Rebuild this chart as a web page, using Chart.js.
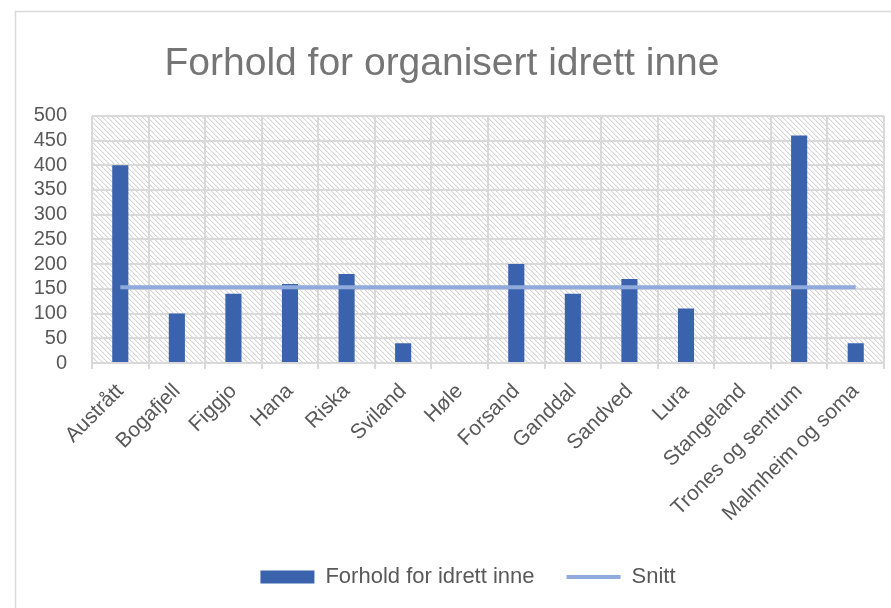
<!DOCTYPE html>
<html>
<head>
<meta charset="utf-8">
<script src="https://cdn.jsdelivr.net/npm/chart.js@4/dist/chart.umd.min.js"></script>
<style>
  html, body { margin: 0; padding: 0; background: #ffffff; }
  #wrap { width: 891px; height: 608px; }
</style>
</head>
<body>
<div id="wrap"><canvas id="c" width="891" height="608"></canvas></div>
<script>
const categories = ["Austrått", "Bogafjell", "Figgjo", "Hana", "Riska", "Sviland", "Høle", "Forsand", "Ganddal", "Sandved", "Lura", "Stangeland", "Trones og sentrum", "Malmheim og soma"];
const idrettInne = [400, 100, 140, 160, 180, 40, 0, 200, 140, 170, 110, 0, 460, 40];
const snitt = [153, 153, 153, 153, 153, 153, 153, 153, 153, 153, 153, 153, 153, 153];
const yTicks = [0, 50, 100, 150, 200, 250, 300, 350, 400, 450, 500];
const chartTitle = "Forhold for organisert idrett inne";
const seriesNames = ["Forhold for idrett inne", "Snitt"];

const FONT = "'Liberation Sans', Arial, sans-serif";

function makeHatch() {
  const n = 5;
  const t = document.createElement('canvas');
  t.width = n; t.height = n;
  const g = t.getContext('2d');
  g.fillStyle = '#ffffff';
  g.fillRect(0, 0, n, n);
  for (let i = 0; i < n; i++) {
    g.fillStyle = '#d6d6d6';
    g.fillRect(i, i, 1, 1);
    g.fillStyle = '#efefef';
    g.fillRect((i + 1) % n, i, 1, 1);
  }
  return t;
}

const bgPlugin = {
  id: 'bg',
  afterLayout(chart) {
    const lg = chart.legend;
    if (lg) { lg.left += 26; lg.right += 26; }
  },
  beforeDraw(chart) {
    const ctx = chart.ctx;
    const a = chart.chartArea;
    ctx.save();
    ctx.fillStyle = ctx.createPattern(makeHatch(), 'repeat');
    ctx.fillRect(a.left, a.top, a.right - a.left, a.bottom - a.top);
    // outer chart border
    ctx.strokeStyle = '#d9d9d9';
    ctx.lineWidth = 1.5;
    ctx.beginPath();
    ctx.moveTo(15.5, chart.height + 2);
    ctx.lineTo(15.5, 11.5);
    ctx.lineTo(chart.width + 2, 11.5);
    ctx.stroke();
    ctx.restore();
  }
};

new Chart(document.getElementById('c'), {
  data: {
    labels: categories,
    datasets: [
      {
        type: 'bar',
        label: seriesNames[0],
        data: idrettInne,
        backgroundColor: '#3B63AD',
        borderWidth: 0,
        barPercentage: 0.285,
        categoryPercentage: 1.0,
        order: 1
      },
      {
        type: 'line',
        label: seriesNames[1],
        data: snitt,
        borderColor: '#8FAADC',
        backgroundColor: '#8FAADC',
        borderWidth: 4,
        pointRadius: 0,
        fill: false,
        order: 0
      }
    ]
  },
  options: {
    responsive: false,
    animation: false,
    layout: { padding: { left: 0, right: 7, top: 0, bottom: 10 } },
    plugins: {
      title: {
        display: true,
        text: chartTitle,
        color: '#757575',
        font: { family: FONT, size: 39, weight: 'normal', lineHeight: 1.2 },
        padding: { top: 41, bottom: 28 }
      },
      legend: {
        display: true,
        position: 'bottom',
        labels: {
          color: '#595959',
          font: { family: FONT, size: 22 },
          usePointStyle: true,
          pointStyleWidth: 54,
          boxHeight: 13,
          padding: 32,
          generateLabels(chart) {
            const items = Chart.defaults.plugins.legend.labels.generateLabels(chart);
            items.sort((a, b) => a.datasetIndex - b.datasetIndex);
            items.forEach(it => {
              if (it.datasetIndex === 0) {
                it.pointStyle = 'rect';
                it.lineWidth = 0;
                it.fillStyle = '#3B63AD';
                it.strokeStyle = '#3B63AD';
              } else {
                it.pointStyle = 'line';
                it.lineWidth = 4;
                it.strokeStyle = '#8FAADC';
              }
            });
            return items;
          }
        }
      },
      tooltip: { enabled: false }
    },
    scales: {
      x: {
        type: 'category',
        offset: true,
        grid: {
          display: true,
          offset: true,
          color: '#d9d9d9',
          lineWidth: 2,
          drawTicks: true,
          tickLength: 6,
          tickColor: '#d9d9d9'
        },
        border: { display: true, color: '#d9d9d9', width: 2 },
        ticks: {
          color: '#595959',
          font: { family: FONT, size: 21 },
          minRotation: 45,
          maxRotation: 45,
          autoSkip: false,
          padding: 10
        },
        afterFit(scale) { scale.height = 171; }
      },
      y: {
        min: 0,
        max: 500,
        afterBuildTicks(scale) { scale.ticks = yTicks.map(v => ({ value: v })); },
        grid: {
          color: '#d9d9d9',
          lineWidth: 2,
          drawTicks: false
        },
        border: { display: false },
        ticks: {
          color: '#595959',
          font: { family: FONT, size: 20 },
          padding: 25,
          autoSkip: false
        },
        afterFit(scale) { scale.width = 92; }
      }
    }
  },
  plugins: [bgPlugin]
});
</script>
</body>
</html>
